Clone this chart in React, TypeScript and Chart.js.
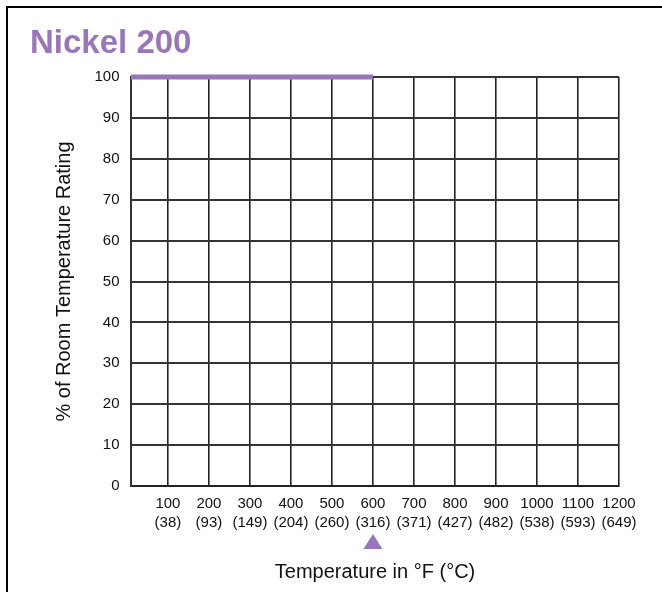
import { useEffect, useRef } from "react";
import { Chart, registerables } from "chart.js";

Chart.register(...registerables);

const chartTitle = "Nickel 200";
const yAxisTitle = "% of Room Temperature Rating";
const xAxisTitle = "Temperature in °F (°C)";
const tempF = [100, 200, 300, 400, 500, 600, 700, 800, 900, 1000, 1100, 1200];
const tempC = [38, 93, 149, 204, 260, 316, 371, 427, 482, 538, 593, 649];
const xMin = 10;
const xMax = 1200;
const ratingF = [10, 600];
const ratingPct = [100, 100];
const yMin = 0;
const yMax = 100;
const yStep = 10;

const PURPLE = "#9876b8";
const FONT = "'Liberation Sans', Arial, Helvetica, sans-serif";

const decorPlugin = {
  id: "decor",
  beforeDraw(chart: any) {
    const ctx = chart.ctx;
    ctx.save();
    ctx.fillStyle = "#ffffff";
    ctx.fillRect(0, 0, chart.width, chart.height);
    ctx.strokeStyle = "#000000";
    ctx.lineWidth = 2;
    ctx.beginPath();
    ctx.moveTo(7, chart.height + 10);
    ctx.lineTo(7, 7);
    ctx.lineTo(chart.width + 10, 7);
    ctx.stroke();
    // title
    ctx.fillStyle = PURPLE;
    ctx.font = `bold 33px ${FONT}`;
    ctx.textAlign = "left";
    ctx.textBaseline = "alphabetic";
    ctx.fillText(chartTitle, 30, 53);
    ctx.restore();
  },
  afterDraw(chart: any) {
    const ctx = chart.ctx;
    const area = chart.chartArea;
    const xs = chart.scales.x;
    ctx.save();
    // y axis title
    ctx.fillStyle = "#111111";
    ctx.font = `20px ${FONT}`;
    ctx.textAlign = "center";
    ctx.textBaseline = "middle";
    ctx.translate(64, (area.top + area.bottom) / 2);
    ctx.rotate(-Math.PI / 2);
    ctx.fillText(yAxisTitle, 0, 0);
    ctx.restore();
    // triangle marker at end of rating line
    const px = xs.getPixelForValue(ratingF[ratingF.length - 1]);
    const top = area.bottom + 48;
    const bottom = area.bottom + 63;
    ctx.save();
    ctx.fillStyle = PURPLE;
    ctx.beginPath();
    ctx.moveTo(px, top);
    ctx.lineTo(px + 9.5, bottom);
    ctx.lineTo(px - 9.5, bottom);
    ctx.closePath();
    ctx.fill();
    ctx.restore();
  },
};

export default function App() {
  const ref = useRef<HTMLCanvasElement | null>(null);
  useEffect(() => {
    if (!ref.current) return;
    Chart.defaults.font.family = FONT;
    const chart = new Chart(ref.current, {
      type: "line",
      data: {
        datasets: [
          {
            data: ratingF.map((x, i) => ({ x, y: ratingPct[i] })),
            borderColor: PURPLE,
            backgroundColor: PURPLE,
            borderWidth: 5,
            pointRadius: 0,
            borderCapStyle: "butt",
            clip: false as any,
          },
        ],
      },
      options: {
        animation: false,
        responsive: false,
        devicePixelRatio: 1,
        layout: { padding: { top: 77, right: 43, bottom: 0, left: 0 } },
        plugins: {
          legend: { display: false },
          tooltip: { enabled: false },
          title: { display: false },
        },
        scales: {
          x: {
            type: "linear",
            min: xMin,
            max: xMax,
            afterBuildTicks: (s: any) => {
              s.ticks = tempF.map((v) => ({ value: v }));
            },
            afterFit: (s: any) => {
              s.height = 106;
            },
            ticks: {
              autoSkip: false,
              maxRotation: 0,
              minRotation: 0,
              padding: 8.5,
              color: "#111111",
              font: { size: 15, lineHeight: 1.27 },
              callback: (v: any) => {
                const i = tempF.indexOf(Number(v));
                return i < 0 ? "" : [String(tempF[i]), `(${tempC[i]})`];
              },
            },
            grid: { color: "#222222", lineWidth: 1.6, drawTicks: false },
            border: { color: "#222222", width: 2 },
            title: {
              display: true,
              text: xAxisTitle,
              color: "#111111",
              font: { size: 20 },
              padding: { top: 0, bottom: 8 },
            },
          },
          y: {
            type: "linear",
            min: yMin,
            max: yMax,
            afterFit: (s: any) => {
              s.width = 131;
            },
            ticks: {
              stepSize: yStep,
              padding: 11.5,
              color: "#111111",
              font: { size: 15 },
            },
            grid: { color: "#333333", lineWidth: 2, drawTicks: false },
            border: { color: "#333333", width: 2 },
          },
        },
      },
      plugins: [decorPlugin],
    });
    return () => chart.destroy();
  }, []);
  return (
    <div style={{ position: "fixed", left: 0, top: 0, width: 662, height: 592 }}>
      <canvas ref={ref} width={662} height={592} style={{ width: 662, height: 592, display: "block" }} />
    </div>
  );
}
